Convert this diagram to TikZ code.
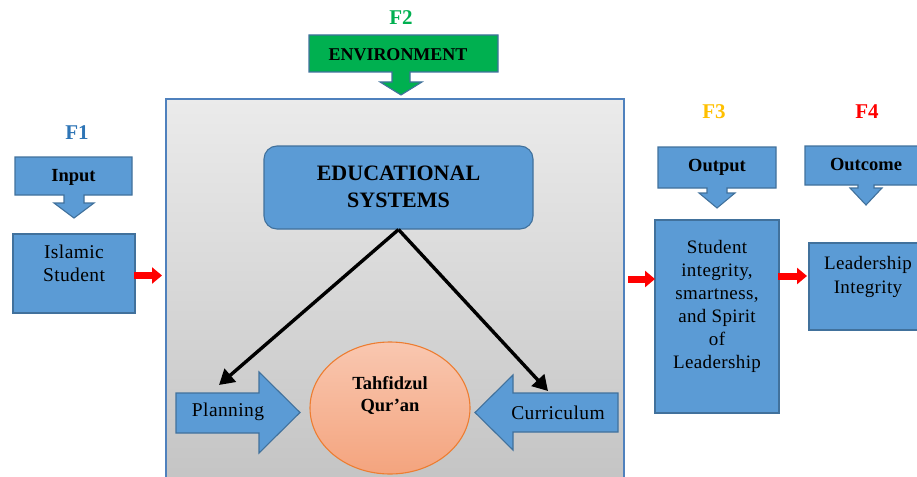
\documentclass[tikz,border=0pt]{standalone}
\usepackage{fontspec}
\setmainfont{Liberation Serif}
\newfontfamily\spacedserif[LetterSpace=2]{Liberation Serif}
\usetikzlibrary{arrows.meta}
\definecolor{boxblue}{HTML}{5B9BD5}
\definecolor{boxline}{HTML}{41719C}
\definecolor{envgreen}{HTML}{00B050}
\definecolor{frameblue}{HTML}{4F81BD}
\definecolor{grayTop}{HTML}{EBEBEB}
\definecolor{grayBot}{HTML}{C4C4C4}
\definecolor{peachTop}{HTML}{F9C7B0}
\definecolor{peachBot}{HTML}{F4A47E}
\definecolor{peachLine}{HTML}{ED7D31}
\definecolor{fone}{HTML}{2E75B6}
\definecolor{fthree}{HTML}{FFC000}
\definecolor{arrred}{HTML}{FF0000}
\begin{document}
\begin{tikzpicture}[x=1pt,y=-1pt,
  bluefill/.style={fill=boxblue,draw=boxline,line width=1.1pt},
  bluebox/.style={bluefill,rectangle,inner sep=0pt},
  boldtxt/.style={font=\fontsize{18.5}{21}\selectfont\bfseries,align=center,inner sep=0pt},
  regtxt/.style={font=\spacedserif\fontsize{19.5}{22.5}\selectfont,align=center,inner sep=0pt},
  flabel/.style={font=\fontsize{21}{24}\selectfont\bfseries,inner sep=0pt},
  blackarrow/.style={line width=3.4pt,black,-{Triangle[length=15pt,width=17pt]}},
  redarrow/.style={line width=7pt,arrred,-{Triangle[length=10pt,width=16pt]}}
]
\useasboundingbox (0,0) rectangle (917,476);
\clip (0,0) rectangle (917,476);

% main gray system box
\shade[top color=grayTop,bottom color=grayBot,draw=frameblue,line width=2pt]
  (166,99) rectangle (624,482);
\node[inner sep=0pt,minimum width=458pt,minimum height=377pt] (system) at (395,287.5) {};

% F labels
\node[flabel,text=fone] (f1) at (77,133) {F1};
\node[flabel,text=envgreen] (f2) at (401,18) {F2};
\node[flabel,text=fthree] (f3) at (714,112) {F3};
\node[flabel,text=arrred] (f4) at (867,112) {F4};

% Input callout
\path[bluefill] (15,157) -- (132,157) -- (132,195) -- (84,195) -- (84,203) -- (94,203)
  -- (74,218) -- (54,203) -- (64,203) -- (64,195) -- (15,195) -- cycle;
\node[boldtxt] (input) at (73.5,177.5) {Input};

% Environment callout
\path[fill=envgreen,draw=boxline,line width=1.1pt] (309,35) -- (498,35) -- (498,72)
  -- (410,72) -- (410,82) -- (422,82) -- (401,95) -- (380,82) -- (392,82) -- (392,72)
  -- (309,72) -- cycle;
\node[boldtxt,font=\fontsize{18}{21}\selectfont\bfseries] (env) at (398,54.5) {ENVIRONMENT};

% Output callout
\path[bluefill] (658,147) -- (776,147) -- (776,188) -- (727,188) -- (727,193) -- (735,193)
  -- (717,208) -- (699,193) -- (707,193) -- (707,188) -- (658,188) -- cycle;
\node[boldtxt] (output) at (717,167) {Output};

% Outcome callout
\path[bluefill] (805,146) -- (930,146) -- (930,185) -- (874,185) -- (874,188) -- (882,188)
  -- (866,205) -- (850,188) -- (858,188) -- (858,185) -- (805,185) -- cycle;
\node[boldtxt] (outcome) at (866,164.5) {Outcome};

% Islamic Student
\node[bluebox,minimum width=122pt,minimum height=79pt] (islamic) at (74,273.5) {};
\node[regtxt] (islamicT) at (74,263.5) {Islamic\\Student};

% Output main box
\node[bluebox,minimum width=124pt,minimum height=193pt] (result) at (717,316.5) {};
\node[regtxt,font=\spacedserif\fontsize{19}{23}\selectfont] (resultT) at (717,306) {Student\\integrity,\\smartness,\\and Spirit\\of\\Leadership};

% Leadership box
\node[bluebox,minimum width=121pt,minimum height=87pt] (lead) at (869.5,286.5) {};
\node[regtxt,font=\spacedserif\fontsize{19}{24}\selectfont] (leadT) at (868,277) {Leadership\\Integrity};

% Educational systems
\node[bluebox,rounded corners=13pt,minimum width=269pt,minimum height=83pt] (edu) at (398.5,187.5) {};
\node[boldtxt,font=\fontsize{22}{27}\selectfont\bfseries] (eduT) at (398.5,187) {EDUCATIONAL\\SYSTEMS};

% Planning arrow
\path[bluefill] (176,393) -- (259,393) -- (259,372) -- (300,412.5) -- (259,453) -- (259,433)
  -- (176,433) -- cycle;
\node[regtxt] (planning) at (228,412) {Planning};

% Curriculum arrow
\path[bluefill] (618,393) -- (513,393) -- (513,375) -- (475,412.5) -- (513,450) -- (513,432)
  -- (618,432) -- cycle;
\node[regtxt] (curriculum) at (558,413) {Curriculum};

% Tahfidzul Qur'an
\shade[top color=peachTop,bottom color=peachBot,draw=peachLine,line width=1.1pt]
  (390,408) ellipse [x radius=80pt,y radius=66pt];
\node[boldtxt,font=\fontsize{18.5}{22}\selectfont\bfseries] (tahfidz) at (390,395) {Tahfidzul\\Qur’an};

% black connectors
\coordinate (planTip) at (219,385);
\coordinate (curTip) at (548,391);
\draw[blackarrow] (edu.south) -- (planTip);
\draw[blackarrow] (edu.south) -- (curTip);

% red connectors
\coordinate (r1s) at (134,275.5);
\coordinate (r1e) at (162,275.5);
\coordinate (r2s) at (628,279);
\coordinate (r2e) at (655,279);
\coordinate (r3s) at (778,276);
\coordinate (r3e) at (807,276);
\draw[redarrow] (r1s) -- (r1e);
\draw[redarrow] (r2s) -- (r2e);
\draw[redarrow] (r3s) -- (r3e);
\end{tikzpicture}
\end{document}
